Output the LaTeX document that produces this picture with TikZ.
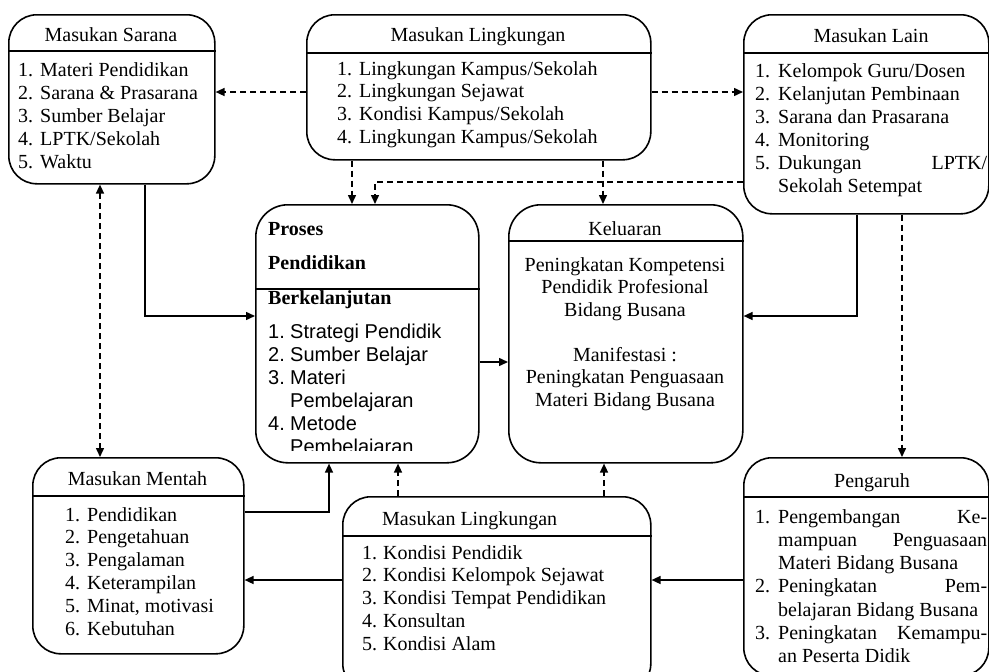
\documentclass[tikz,border=0pt]{standalone}
\usepackage{fontspec}
\setmainfont{Liberation Serif}
\newfontfamily\arialf{Liberation Sans}
\usetikzlibrary{arrows.meta}
\newcommand\myitems[6]{%
  \foreach \t [count=\i] in {#6} {%
    \node[txt] (#1n\i) at (#2,{#4+#5*(\i-1)}) {\i.};
    \node[txt] (#1t\i) at (#3,{#4+#5*(\i-1)}) {\t};
  }}
\begin{document}
\begin{tikzpicture}[x=1pt,y=-1pt,
  box/.style={draw, line width=1.6pt, rounded corners=28pt, rectangle, anchor=north west, inner sep=0pt},
  bigbox/.style={box, rounded corners=32pt},
  hline/.style={line width=1.5pt},
  txt/.style={inner sep=0pt, anchor=base west, font=\fontsize{20}{23}\selectfont},
  ctxt/.style={txt, anchor=base},
  tip/.style={},
  conn/.style={line width=1.5pt, -{Triangle[length=9pt,width=8pt]}},
  dconn/.style={conn, dash pattern=on 6pt off 4pt},
]
\useasboundingbox (0,0) rectangle (989,672);
\clip (0,0) rectangle (989,672);

% boxes
\node[box, minimum width=206pt, minimum height=169pt] (sar) at (8,14) {};
\node[box, minimum width=344pt, minimum height=145pt] (mlt) at (306,14) {};
\node[box, minimum width=245pt, minimum height=199pt] (lain) at (743,14) {};
\node[bigbox, minimum width=223pt, minimum height=258pt] (proses) at (255,204) {};
\node[bigbox, minimum width=234pt, minimum height=258pt] (kel) at (508,204) {};
\node[box, minimum width=211pt, minimum height=196pt] (mentah) at (32,457) {};
\node[box, minimum width=308pt, minimum height=195pt] (mlb) at (342,496) {};
\node[box, minimum width=245pt, minimum height=218pt] (peng) at (743,457) {};

% header lines
\draw[hline] (sar.west |- 0,51) -- (sar.east |- 0,51);
\draw[hline] (mlt.west |- 0,53) -- (mlt.east |- 0,53);
\draw[hline] (lain.west |- 0,53) -- (lain.east |- 0,53);
\draw[hline] (proses.west |- 0,289) -- (proses.east |- 0,289);
\draw[hline] (kel.west |- 0,241) -- (kel.east |- 0,241);
\draw[hline] (mentah.west |- 0,496) -- (mentah.east |- 0,496);
\draw[hline] (mlb.west |- 0,536) -- (mlb.east |- 0,536);
\draw[hline] (peng.west |- 0,497) -- (peng.east |- 0,497);

% Masukan Sarana
\node[ctxt] (sarh) at (111,41) {Masukan Sarana};
\myitems{sar}{18}{40}{76}{23}{Materi Pendidikan, Sarana \& Prasarana, Sumber Belajar, LPTK/Sekolah, Waktu}

% Masukan Lingkungan (top)
\node[ctxt] (mlth) at (478,41) {Masukan Lingkungan};
\myitems{mlt}{337}{359}{75}{22.7}{Lingkungan Kampus/Sekolah, Lingkungan Sejawat, Kondisi Kampus/Sekolah, Lingkungan Kampus/Sekolah}

% Masukan Lain
\node[ctxt] (lainh) at (871,42) {Masukan Lain};
\myitems{lain}{755}{778}{77}{23}{Kelompok Guru/Dosen, Kelanjutan Pembinaan, Sarana dan Prasarana, Monitoring}
\node[txt] (lainn5) at (755,169) {5.};
\node[txt] (laint5) at (778,169) {\makebox[209pt]{Dukungan\hfill LPTK/}};
\node[txt] (laint6) at (778,192) {Sekolah Setempat};

% Proses
\node[txt] (ph1) at (268,235) {\bfseries Proses};
\node[txt] (ph2) at (268,269.5) {\bfseries Pendidikan};
\node[txt] (ph3) at (268,304) {\bfseries Berkelanjutan};
\begin{scope}
\clip (proses.north west) rectangle (proses.east |- 0,450);
\begin{scope}[txt/.append style={font=\arialf\fontsize{20}{23}\selectfont}]
\node[txt] (pn1) at (268,338) {1.};
\node[txt] (pt1) at (290,338) {Strategi Pendidik};
\node[txt] (pn2) at (268,361) {2.};
\node[txt] (pt2) at (290,361) {Sumber Belajar};
\node[txt] (pn3) at (268,384) {3.};
\node[txt] (pt3) at (290,384) {Materi};
\node[txt] (pt3b) at (290,407) {Pembelajaran};
\node[txt] (pn4) at (268,430) {4.};
\node[txt] (pt4) at (290,430) {Metode};
\node[txt] (pt4b) at (290,453) {Pembelajaran};
\end{scope}
\end{scope}

% Keluaran
\node[ctxt] (kelh) at (625,235) {Keluaran};
\node[ctxt] (kel1) at (625,271) {Peningkatan Kompetensi};
\node[ctxt] (kel2) at (625,293.5) {Pendidik Profesional};
\node[ctxt] (kel3) at (625,316) {Bidang Busana};
\node[ctxt] (kel4) at (625,361) {Manifestasi :};
\node[ctxt] (kel5) at (625,383.5) {Peningkatan Penguasaan};
\node[ctxt] (kel6) at (625,406) {Materi Bidang Busana};

% Masukan Mentah
\node[ctxt] (menh) at (137.5,485) {Masukan Mentah};
\myitems{men}{65}{87}{521}{22.85}{Pendidikan, Pengetahuan, Pengalaman, Keterampilan, {Minat, motivasi}, Kebutuhan}

% Masukan Lingkungan (bottom)
\node[txt] (mlbh) at (382,525) {Masukan Lingkungan};
\myitems{mlb}{362}{383}{559}{22.75}{Kondisi Pendidik, Kondisi Kelompok Sejawat, Kondisi Tempat Pendidikan, Konsultan, Kondisi Alam}

% Pengaruh
\node[ctxt] (pengh) at (872,487) {Pengaruh};
\node[txt] (pgn1) at (755,523) {1.};
\node[txt] (pgt1) at (778,523) {\makebox[209pt]{Pengembangan\hfill Ke-}};
\node[txt] (pgt1b) at (778,546.3) {\makebox[209pt]{mampuan\hfill Penguasaan}};
\node[txt] (pgt1c) at (778,569.6) {Materi Bidang Busana};
\node[txt] (pgn2) at (755,592.9) {2.};
\node[txt] (pgt2) at (778,592.9) {\makebox[209pt]{Peningkatan\hfill Pem-}};
\node[txt] (pgt2b) at (778,616.2) {belajaran Bidang Busana};
\node[txt] (pgn3) at (755,639.5) {3.};
\node[txt] (pgt3) at (778,639.5) {\makebox[209pt]{Peningkatan\hfill Kemampu-}};
\node[txt] (pgt3b) at (778,662.8) {an Peserta Didik};

% connectors
\draw[dconn] (mlt.west |- 0,92) -- (sar.east |- 0,92);
\draw[dconn] (mlt.east |- 0,92) -- (lain.west |- 0,92);
\draw[dconn] (mlt.south -| 352,0) -- (proses.north -| 352,0);
\draw[dconn] (lain.west |- 0,182) -- (375,182) -- (proses.north -| 375,0);
\draw[dconn] (mlt.south -| 603,0) -- (kel.north -| 603,0);
\draw[conn] (sar.south -| 145,0) -- (145,316) -- (proses.west |- 0,316);
\draw[dconn, {Triangle[length=9pt,width=8pt]}-{Triangle[length=9pt,width=8pt]}] (sar.south -| 100,0) -- (mentah.north -| 100,0);
\draw[conn] (lain.south -| 857,0) -- (857,316) -- (kel.east |- 0,316);
\draw[dconn] (lain.south -| 902,0) -- (peng.north -| 902,0);
\draw[conn] (proses.east |- 0,362) -- (kel.west |- 0,362);
\draw[conn] (mentah.east |- 0,512) -- (329,512) -- (proses.south -| 329,0);
\draw[dconn] (mlb.north -| 398,0) -- (proses.south -| 398,0);
\draw[dconn] (mlb.north -| 604,0) -- (kel.south -| 604,0);
\draw[conn] (mlb.west |- 0,580) -- (mentah.east |- 0,580);
\draw[conn] (peng.west |- 0,580) -- (mlb.east |- 0,580);
\end{tikzpicture}
\end{document}
